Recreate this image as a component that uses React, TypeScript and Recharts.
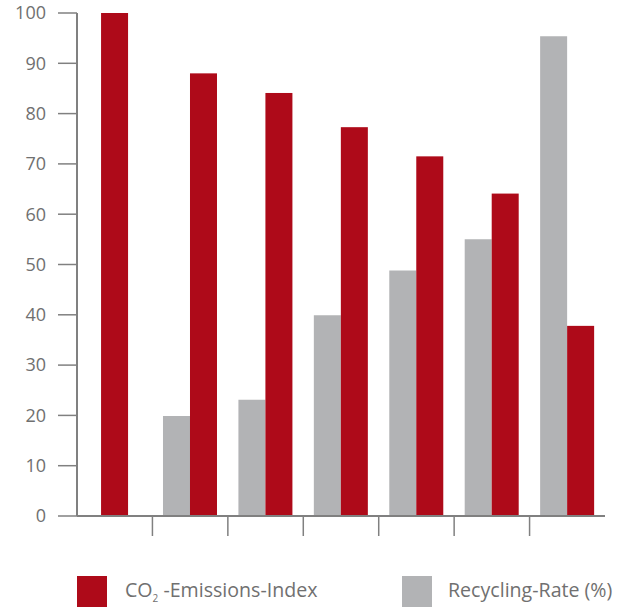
import { Bar, BarChart, Legend, XAxis, YAxis } from "recharts"

const categories = ["A", "B", "C", "D", "E", "F", "G"]
const co2Index = [100, 88, 84.1, 77.3, 71.5, 64.1, 37.8]
const recyclingRate = [null, 19.9, 23.1, 39.9, 48.8, 55, 95.4]
const yTicks = [0, 10, 20, 30, 40, 50, 60, 70, 80, 90, 100]

const data = categories.map((name, i) => ({
  name,
  co2: co2Index[i],
  recycling: recyclingRate[i],
}))

const W = 630
const H = 607
const LEFT = 77
const RIGHT = 25
const RED = "#ae0a19"
const GREY = "#b2b3b5"
const AXIS = "#808080"
const TEXT = "#707070"
const FONT = "'Open Sans', 'Noto Sans', sans-serif"

const step = (W - LEFT - RIGHT) / categories.length

// tick lines sit on the borders between categories, not under the bars
function BoundaryTick(props: any) {
  const { x, y, index } = props
  if (index === 0) return <g />
  const bx = x - step / 2
  return <line x1={bx} x2={bx} y1={y} y2={y + 20} stroke={AXIS} strokeWidth={1.5} />
}

// when a category has no recycling value the red bar is centred on its own
function RedBar(props: any) {
  const { x, y, width, height, payload } = props
  const dx = payload.recycling == null ? -width / 2 : 0
  return <rect x={x + dx} y={y} width={width} height={height} fill={RED} />
}

function LegendBox() {
  const item = (color: string, left: number, textLeft: number, label: any) => (
    <>
      <div style={{ position: "absolute", left, top: 0, width: 30, height: 31, background: color }} />
      <div
        style={{
          position: "absolute",
          left: textLeft,
          top: 1,
          fontFamily: FONT,
          fontSize: 19.6,
          color: TEXT,
          lineHeight: "26px",
          whiteSpace: "nowrap",
        }}
      >
        {label}
      </div>
    </>
  )
  return (
    <div style={{ position: "relative", width: W, height: 31 }}>
      {item(
        RED,
        77,
        125,
        <>
          CO<sub style={{ fontSize: 10 }}>2</sub> -Emissions-Index
        </>
      )}
      {item(GREY, 402, 448, "Recycling-Rate (%)")}
    </div>
  )
}

export default function App() {
  return (
    <div style={{ position: "absolute", left: 0, top: 0, width: W, height: H, background: "#fff" }}>
      <BarChart
        width={W}
        height={H}
        data={data}
        margin={{ top: 13, right: RIGHT, bottom: 0, left: 0 }}
        barCategoryGap="14%"
        barGap={0}
      >
        <XAxis
          dataKey="name"
          height={60}
          tickSize={0}
          tickMargin={0}
          tickLine={false}
          axisLine={{ stroke: AXIS, strokeWidth: 2 }}
          tick={<BoundaryTick />}
          interval={0}
        />
        <YAxis
          width={LEFT}
          domain={[0, 100]}
          ticks={yTicks}
          interval={0}
          tickSize={19}
          tickMargin={12}
          axisLine={{ stroke: AXIS, strokeWidth: 2 }}
          tickLine={{ stroke: AXIS, strokeWidth: 1.5 }}
          tick={{ fill: TEXT, fontSize: 18, fontFamily: FONT }}
        />
        <Legend
          verticalAlign="bottom"
          content={() => <LegendBox />}
          wrapperStyle={{ left: 0, width: W, height: 31 }}
        />
        <Bar dataKey="recycling" name="Recycling-Rate (%)" fill={GREY} isAnimationActive={false} />
        <Bar dataKey="co2" name="CO2-Emissions-Index" fill={RED} shape={<RedBar />} isAnimationActive={false} />
      </BarChart>
    </div>
  )
}
